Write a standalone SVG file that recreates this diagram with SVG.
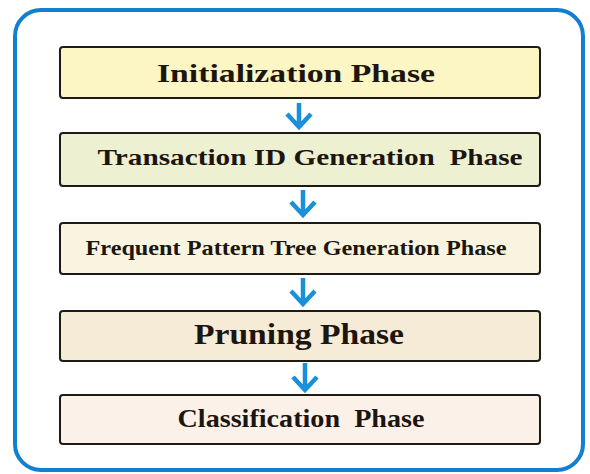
<svg xmlns="http://www.w3.org/2000/svg" width="590" height="474" viewBox="0 0 590 474">
<defs>
<style>
.frame{fill:#ffffff;stroke:#1380cf;stroke-width:4}
.box{stroke:#1e1a16;stroke-width:2}
.lbl{font-family:"Liberation Serif","Times New Roman",serif;font-weight:bold;fill:#1c1510;text-anchor:middle}
.arr{fill:none;stroke:#1a90da;stroke-width:4.5;stroke-linecap:butt;stroke-linejoin:miter}
</style>
</defs>
<rect width="590" height="474" fill="#ffffff"/>
<rect class="frame" x="15" y="10" width="568" height="460" rx="26" ry="26"/>
<g id="node-init">
<rect class="box" x="60" y="47" width="480" height="51" rx="3" fill="#fcf5c4"/>
<text class="lbl" x="296" y="82" font-size="26" textLength="278" lengthAdjust="spacingAndGlyphs">Initialization Phase</text>
</g>
<g id="node-tid">
<rect class="box" x="60" y="133" width="480" height="53" rx="3" fill="#eef0d2"/>
<text class="lbl" x="310" y="165" font-size="24" textLength="425" lengthAdjust="spacingAndGlyphs" xml:space="preserve">Transaction ID Generation  Phase</text>
</g>
<g id="node-fpt">
<rect class="box" x="60" y="223" width="480" height="51" rx="3" fill="#f9f4e0"/>
<text class="lbl" x="296" y="255" font-size="21" textLength="421" lengthAdjust="spacingAndGlyphs">Frequent Pattern Tree Generation Phase</text>
</g>
<g id="node-prune">
<rect class="box" x="60" y="311" width="480" height="50" rx="3" fill="#f5ebd6"/>
<text class="lbl" x="299" y="344" font-size="30" textLength="210" lengthAdjust="spacingAndGlyphs">Pruning Phase</text>
</g>
<g id="node-class">
<rect class="box" x="60" y="395" width="480" height="49" rx="3" fill="#fbf1e8"/>
<text class="lbl" x="301" y="427" font-size="25" textLength="247" lengthAdjust="spacingAndGlyphs" xml:space="preserve">Classification  Phase</text>
</g>
<g id="connectors">
<path class="arr" d="M299 103 V128 M287 114 L299 127 L311 114"/>
<path class="arr" d="M303 190 V215 M291 202 L303 215 L315 202"/>
<path class="arr" d="M303 278 V304 M291 291 L303 304 L315 291"/>
<path class="arr" d="M305 363 V390 M293 377 L305 390 L317 377"/>
</g>
</svg>
